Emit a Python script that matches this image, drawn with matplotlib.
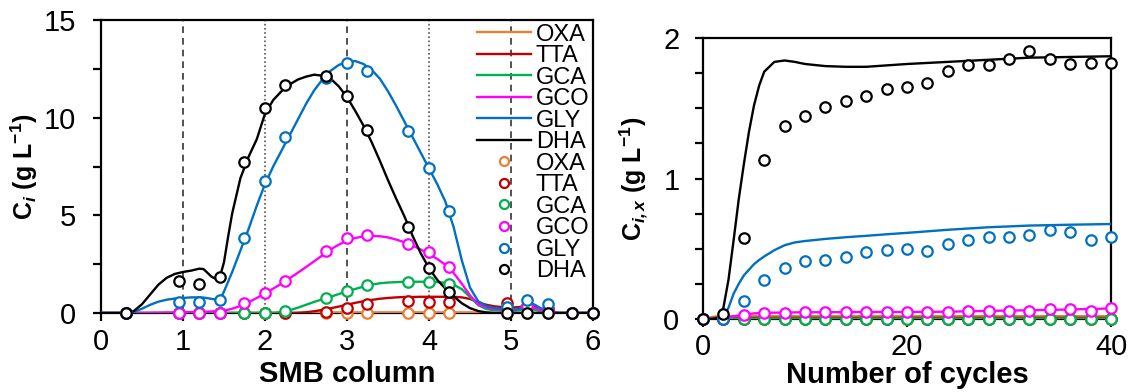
import matplotlib
matplotlib.use("Agg")
import matplotlib.pyplot as plt
from matplotlib.lines import Line2D
from matplotlib.ticker import MultipleLocator

plt.rcParams['font.family'] = ['Liberation Sans', 'DejaVu Sans']
plt.rcParams['mathtext.fontset'] = 'custom'
plt.rcParams['mathtext.rm'] = 'Liberation Sans'
plt.rcParams['mathtext.bf'] = 'Liberation Sans:bold'
plt.rcParams['mathtext.it'] = 'Liberation Sans:italic'
plt.rcParams['mathtext.bfit'] = 'Liberation Sans:bold:italic'

species = ['OXA', 'TTA', 'GCA', 'GCO', 'GLY', 'DHA']
colors = ['#ED7D31', '#C00000', '#00B050', '#FF00FF', '#0070C0', '#000000']

# ---------------- left panel: profile along SMB columns ----------------
col_x = [0.0, 0.1, 0.2, 0.3, 0.4, 0.5, 0.6, 0.7, 0.8, 0.9, 1.0, 1.1, 1.2,
         1.25, 1.3, 1.35, 1.4, 1.45, 1.5, 1.55, 1.6,
         1.7, 1.8, 1.9, 2.0, 2.1, 2.2, 2.3, 2.4, 2.5, 2.6, 2.7, 2.8, 2.9,
         3.0, 3.1, 3.2, 3.3, 3.4, 3.5, 3.6, 3.7, 3.8, 3.9,
         4.0, 4.1, 4.2, 4.3, 4.4, 4.5, 4.6, 4.7, 4.8, 4.9,
         5.0, 5.1, 5.2, 5.3, 5.4, 5.5, 5.6, 5.7, 5.8, 5.9, 6.0]

sim_DHA = [0, 0, 0, 0, 0.1, 0.45, 0.95, 1.45, 1.8, 2.0, 2.1, 2.17, 2.27,
           2.25, 2.05, 1.85, 1.75, 1.85, 2.6, 3.9, 5.1,
           6.9, 8.0, 8.9, 10.2, 10.9, 11.35, 11.7, 11.95, 12.1, 12.2, 12.15, 12.0, 11.6,
           11.05, 10.35, 9.6, 8.75, 7.8, 6.8, 5.85, 4.95, 3.95, 3.05,
           2.3, 1.7, 1.25, 0.85, 0.5, 0.25, 0.1, 0.03, 0, 0,
           0, 0, 0, 0, 0, 0, 0, 0, 0, 0, 0]
sim_GLY = [0, 0, 0, 0, 0.05, 0.22, 0.42, 0.58, 0.68, 0.74, 0.77, 0.8, 0.8,
           0.79, 0.76, 0.72, 0.69, 0.68, 1.1, 1.6, 2.1,
           3.2, 4.3, 5.5, 6.6, 7.5, 8.3, 9.1, 9.9, 10.7, 11.4, 11.95, 12.4, 12.7,
           12.85, 12.9, 12.75, 12.45, 12.0, 11.35, 10.6, 9.8, 9.0, 8.2,
           7.4, 6.6, 5.7, 4.4, 2.7, 1.3, 0.6, 0.35, 0.25, 0.2,
           0.15, 0.2, 0.6, 0.4, 0.15, 0.02, 0, 0, 0, 0, 0]
sim_GCO = [0, 0, 0, 0, 0, 0, 0, 0.01, 0.02, 0.03, 0.04, 0.05, 0.05,
           0.06, 0.07, 0.08, 0.09, 0.1, 0.13, 0.17, 0.22,
           0.36, 0.55, 0.77, 1.0, 1.25, 1.5, 1.78, 2.06, 2.35, 2.65, 2.95, 3.25, 3.5,
           3.7, 3.84, 3.92, 3.95, 3.93, 3.87, 3.76, 3.62, 3.45, 3.25,
           3.02, 2.77, 2.47, 2.05, 1.5, 0.9, 0.45, 0.28, 0.2, 0.16,
           0.15, 0.2, 0.35, 0.25, 0.1, 0.02, 0, 0, 0, 0, 0]
sim_GCA = [0, 0, 0, 0, 0, 0, 0, 0, 0, 0, 0, 0, 0,
           0, 0, 0, 0, 0, 0, 0, 0,
           0, 0, 0, 0, 0, 0.05, 0.14, 0.27, 0.42, 0.57, 0.7, 0.83, 0.97,
           1.1, 1.23, 1.35, 1.45, 1.52, 1.56, 1.58, 1.6, 1.6, 1.6,
           1.6, 1.58, 1.55, 1.45, 1.22, 0.82, 0.4, 0.2, 0.14, 0.12,
           0.1, 0.14, 0.25, 0.15, 0.05, 0.01, 0, 0, 0, 0, 0]
sim_TTA = [0, 0, 0, 0, 0, 0, 0, 0, 0, 0, 0, 0, 0,
           0, 0, 0, 0, 0, 0, 0, 0,
           0, 0, 0, 0, 0, 0, 0, 0.01, 0.04, 0.09, 0.16, 0.24, 0.33,
           0.42, 0.52, 0.6, 0.67, 0.73, 0.77, 0.8, 0.82, 0.82, 0.83,
           0.83, 0.83, 0.83, 0.83, 0.8, 0.72, 0.55, 0.42, 0.34, 0.3,
           0.28, 0.3, 0.4, 0.3, 0.15, 0.03, 0, 0, 0, 0, 0]
sim_OXA = [0, 0, 0, 0, 0, 0, 0, 0, 0, 0, 0, 0, 0,
           0, 0, 0, 0, 0, 0, 0, 0,
           0, 0, 0, 0, 0, 0, 0, 0, 0, 0.02, 0.03, 0.03, 0.03,
           0.03, 0.03, 0.03, 0.03, 0.03, 0.03, 0.03, 0.03, 0.03, 0.03,
           0.03, 0.03, 0.03, 0.03, 0.03, 0.03, 0.02, 0.01, 0, 0,
           0, 0, 0, 0, 0, 0, 0, 0, 0, 0, 0]

exp_x = [0.3, 0.95, 1.2, 1.45, 1.75, 2.0, 2.25, 2.75, 3.0, 3.25, 3.75, 4.0, 4.25,
         4.95, 5.2, 5.45, 5.75, 6.0]
exp_DHA = [0, 1.63, 1.51, 1.82, 7.75, 10.5, 11.65, 12.15, 11.1, 9.35, 4.4, 2.3, 1.1,
           0, 0, 0, 0, 0]
exp_GLY = [0, 0.55, 0.55, 0.65, 3.85, 6.75, 9.0, 12.05, 12.8, 12.4, 9.3, 7.4, 5.2,
           0.3, 0.65, 0.45, 0, 0]
exp_GCO = [0, 0, 0, 0, 0.49, 1.04, 1.63, 3.17, 3.85, 4.0, 3.55, 3.1, 2.36,
           0.2, 0.35, 0.2, 0, 0]
exp_GCA = [0, 0, 0, 0, 0, 0, 0.12, 0.75, 1.12, 1.43, 1.6, 1.6, 1.46,
           0.15, 0.3, 0.15, 0, 0]
exp_TTA = [0, 0, 0, 0, 0, 0, 0, 0.07, 0.24, 0.44, 0.61, 0.58, 0.58,
           0.5, 0.35, 0.2, 0, 0]
exp_OXA = [0, 0, 0, 0, 0, 0, 0, 0, 0, 0, 0, 0, 0,
           0, 0, 0, 0, 0]

dashed_cols = [1, 3, 5]
dotted_cols = [2, 4]

# ---------------- right panel: evolution over cycles ----------------
cyc_x = [0, 1, 1.5, 2, 2.5, 3, 3.5, 4, 4.5, 5, 5.5, 6, 7, 8, 9, 10,
         12, 14, 16, 18, 20, 24, 28, 32, 36, 40]
cyc_DHA = [0, 0, 0.01, 0.08, 0.28, 0.56, 0.85, 1.1, 1.33, 1.52, 1.66, 1.76, 1.83, 1.84,
           1.83, 1.815, 1.8, 1.795, 1.795, 1.805, 1.815, 1.83, 1.845, 1.86, 1.865, 1.87]
cyc_GLY = [0, 0, 0, 0.01, 0.08, 0.18, 0.25, 0.31, 0.35, 0.39, 0.42, 0.445, 0.49, 0.525,
           0.545, 0.555, 0.57, 0.582, 0.592, 0.603, 0.613, 0.635, 0.653, 0.665, 0.671, 0.676]
cyc_GCO = [0, 0, 0, 0, 0.01, 0.02, 0.025, 0.03, 0.035, 0.04, 0.042, 0.044, 0.045, 0.046,
           0.047, 0.048, 0.048, 0.049, 0.05, 0.05, 0.05, 0.052, 0.058, 0.062, 0.068, 0.075]
cyc_GCA = [0, 0.003, 0.003, 0.003, 0.003, 0.003, 0.003, 0.003, 0.003, 0.003, 0.003, 0.003, 0.003,
           0.003, 0.003, 0.003, 0.003, 0.003, 0.003, 0.003, 0.003, 0.003, 0.003, 0.003, 0.003, 0.003]
cyc_TTA = [0, 0.008, 0.008, 0.008, 0.008, 0.008, 0.008, 0.008, 0.008, 0.008, 0.008, 0.008, 0.008,
           0.008, 0.008, 0.008, 0.008, 0.008, 0.008, 0.008, 0.008, 0.008, 0.008, 0.008, 0.008, 0.008]
cyc_OXA = [0, 0.015, 0.02, 0.02, 0.02, 0.02, 0.02, 0.02, 0.02, 0.02, 0.02, 0.02, 0.02,
           0.02, 0.02, 0.02, 0.02, 0.02, 0.02, 0.02, 0.02, 0.02, 0.02, 0.02, 0.02, 0.02]

cyc_exp_x = [0, 2, 4, 6, 8, 10, 12, 14, 16, 18, 20, 22, 24, 26, 28, 30, 32, 34, 36, 38, 40]
cyc_exp_DHA = [0, 0.035, 0.574, 1.13, 1.374, 1.447, 1.511, 1.549, 1.585, 1.64, 1.649,
               1.677, 1.767, 1.805, 1.805, 1.85, 1.905, 1.85, 1.815, 1.822, 1.822]
cyc_exp_GLY = [0, 0, 0.126, 0.28, 0.363, 0.41, 0.42, 0.444, 0.474, 0.491, 0.5,
               0.482, 0.534, 0.562, 0.581, 0.581, 0.598, 0.633, 0.622, 0.562, 0.581]
cyc_exp_GCO = [0, 0, 0.031, 0.043, 0.043, 0.048, 0.048, 0.048, 0.048, 0.05, 0.05,
               0.05, 0.05, 0.06, 0.06, 0.06, 0.06, 0.071, 0.071, 0.06, 0.079]
cyc_exp_GCA = [0, 0, 0, 0, 0, 0, 0, 0, 0, 0, 0, 0, 0, 0, 0, 0, 0, 0, 0, 0, 0]
cyc_exp_TTA = [0, 0, 0, 0, 0, 0, 0, 0, 0, 0, 0, 0, 0, 0, 0, 0, 0, 0, 0, 0, 0]
cyc_exp_OXA = [0, 0, 0, 0, 0, 0, 0, 0, 0, 0, 0, 0, 0, 0, 0, 0, 0, 0, 0, 0, 0]

# ---------------- figure ----------------
fig = plt.figure(figsize=(11.32, 3.92), dpi=100)
axL = fig.add_axes([101 / 1132, 79 / 392, 492 / 1132, 293 / 392])
axR = fig.add_axes([703 / 1132, 73 / 392, 408 / 1132, 281 / 392])

TICK_FS = 21
LAB_FS = 21
YLAB_FS = 18
LW = 1.7
MS = 7.5
MEW = 1.6

sims_L = [sim_OXA, sim_TTA, sim_GCA, sim_GCO, sim_GLY, sim_DHA]
exps_L = [exp_OXA, exp_TTA, exp_GCA, exp_GCO, exp_GLY, exp_DHA]
sims_R = [cyc_OXA, cyc_TTA, cyc_GCA, cyc_GCO, cyc_GLY, cyc_DHA]
exps_R = [cyc_exp_OXA, cyc_exp_TTA, cyc_exp_GCA, cyc_exp_GCO, cyc_exp_GLY, cyc_exp_DHA]

for xv in dashed_cols:
    axL.axvline(xv, color='#333333', lw=1.2, ls=(0, (4, 3)), zorder=1)
for xv in dotted_cols:
    axL.axvline(xv, color='#555555', lw=1.2, ls=(0, (1, 1.5)), zorder=1)

for sp, c, s in zip(species, colors, sims_L):
    axL.plot(col_x, s, color=c, lw=LW, zorder=3)
for sp, c, e in zip(species, colors, exps_L):
    axL.plot(exp_x, e, ls='none', marker='o', ms=MS, mew=MEW, mec=c, mfc='white',
             zorder=4, clip_on=False)

for sp, c, s in zip(species, colors, sims_R):
    axR.plot(cyc_x, s, color=c, lw=LW, zorder=3)
for sp, c, e in zip(species, colors, exps_R):
    axR.plot(cyc_exp_x, e, ls='none', marker='o', ms=MS, mew=MEW, mec=c, mfc='white',
             zorder=4, clip_on=False)

axL.set_xlim(0, 6)
axL.set_ylim(0, 15)
axL.xaxis.set_major_locator(MultipleLocator(1))
axL.yaxis.set_major_locator(MultipleLocator(5))
axL.yaxis.set_minor_locator(MultipleLocator(2.5))

axR.set_xlim(0, 40)
axR.set_ylim(0, 2)
axR.xaxis.set_major_locator(MultipleLocator(20))
axR.yaxis.set_major_locator(MultipleLocator(1))
axR.yaxis.set_minor_locator(MultipleLocator(0.25))

for ax in (axL, axR):
    for s in ax.spines.values():
        s.set_linewidth(1.6)
    ax.tick_params(axis='both', which='major', direction='out', length=6, width=1.6,
                   labelsize=TICK_FS)
    ax.tick_params(axis='both', which='minor', direction='out', length=6, width=1.6)
axL.tick_params(axis='x', which='major', pad=5)
axL.tick_params(axis='y', which='major', pad=12)
axR.tick_params(axis='x', which='major', pad=4)
axR.tick_params(axis='y', which='major', pad=11)

axL.set_xlabel('SMB column', fontsize=LAB_FS, fontweight='bold')
axL.xaxis.set_label_coords(0.5, -0.16)
axL.set_ylabel(r'$\mathbf{C_{\mathbfit{i}}\ (g\ L^{-1})}$', fontsize=YLAB_FS)
axL.yaxis.set_label_coords(-0.124, 0.5)
axR.set_xlabel('Number of cycles', fontsize=LAB_FS, fontweight='bold')
axR.xaxis.set_label_coords(0.5, -0.15)
axR.set_ylabel(r'$\mathbf{C_{\mathbfit{i,x}}\ (g\ L^{-1})}$', fontsize=YLAB_FS)
axR.yaxis.set_label_coords(-0.13, 0.5)

handles = [Line2D([], [], color=c, lw=LW) for c in colors]
handles += [Line2D([], [], ls='none', marker='o', ms=MS - 1, mew=MEW, mec=c, mfc='white')
            for c in colors]
labels = species + species
axL.legend(handles, labels, loc='upper right', frameon=False, fontsize=17,
           labelspacing=-0.02, handlelength=2.3, handletextpad=0.2,
           borderaxespad=0.05, borderpad=0.1)

fig.savefig('out.png', dpi=100)
